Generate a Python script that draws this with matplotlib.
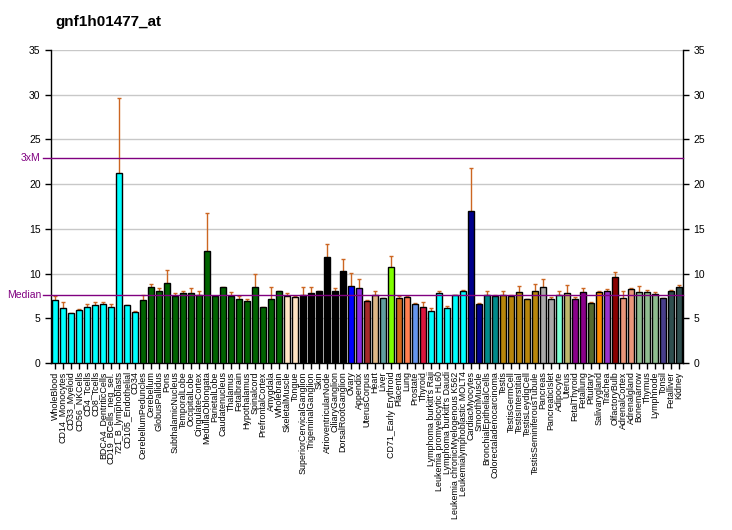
import numpy as np
import matplotlib
matplotlib.use('Agg')
from matplotlib import pyplot as plt
import matplotlib.transforms as mtransforms

plt.rcParams['font.family'] = ['Liberation Sans', 'DejaVu Sans']

# tissue names, values, upper error ends and bar colours
tissues = ['WholeBlood', 'CD14_Monocytes', 'CD33_Myeloid', 'CD56_NKCells', 'CD4_Tcells',
           'CD8_Tcells', 'BDCA4_DentriticCells', 'CD19_BCells_neg_sel.', '721_B_lymphoblasts',
           'CD105_Endothelial', 'CD34', 'CerebellumPeduncles', 'Cerebellum', 'GlobusPallidus',
           'Pons', 'SubthalamicNucleus', 'TemporalLobe', 'OccipitalLobe', 'CingulateCortex',
           'MedullaOblongata', 'ParietalLobe', 'Caudatenucleus', 'Thalamus', 'Fetalbrain',
           'Hypothalamus', 'Spinalcord', 'PrefrontalCortex', 'Amygdala', 'Wholebrain',
           'SkeletalMuscle', 'Tongue', 'SuperiorCervicalGanglion', 'TrigeminalGanglion', 'Skin',
           'AtrioventricularNode', 'CiliaryGanglion', 'DorsalRootGanglion', 'Ovary', 'Appendix',
           'UterusCorpus', 'Heart', 'Liver', 'CD71_Early Erythroid', 'Placenta', 'Lung',
           'Prostate', 'Thyroid', "Lymphoma burkitt's Raji", 'Leukemia promyelocytic HL60',
           "Lymphoma burkitt's Daudi", 'Leukemia chronicMyelogenous K562',
           'Leukemialymphoblastic MOLT4', 'CardiacMyocytes', 'SmoothMuscle',
           'BronchialEpithelialCells', 'Colorectaladenocarcinoma', 'Testis', 'TestisGermCell',
           'TestisInterstitial', 'TestisLeydigCell', 'TestisSeminiferousTubule', 'Pancreas',
           'PancreaticIslet', 'Adipocyte', 'Uterus', 'FetalThyroid', 'Fetallung', 'Pituitary',
           'Salivarygland', 'Trachea', 'OlfactoryBulb', 'AdrenalCortex', 'Adrenalgland',
           'Bonemarrow', 'Thymus', 'Lymphnode', 'Tonsil', 'Fetalliver', 'Kidney']

values = [7.0, 6.1, 5.55, 5.9, 6.3, 6.45, 6.65, 6.3, 21.2, 6.45, 5.7,
          7.1, 8.45, 8.1, 8.9, 7.5, 7.8, 7.8, 7.65, 12.55, 7.45, 8.45, 7.5, 7.2, 6.9,
          8.45, 6.3, 7.2, 8.05, 7.45, 7.35, 7.65, 7.8, 8.05, 11.8, 8.05, 10.25, 8.65,
          8.35, 6.9, 7.6, 7.25, 10.7, 7.25, 7.35, 6.55, 6.25, 5.8, 7.8, 6.1, 7.55, 8.0,
          17.0, 6.55, 7.55, 7.45, 7.55, 7.45, 7.9, 7.15, 8.0, 8.45, 7.15, 7.55, 7.8,
          7.15, 7.9, 6.7, 7.9, 8.0, 9.6, 7.25, 8.25, 7.9, 7.9, 7.7, 7.25, 8.0, 8.45]

err_top = [7.5, 6.8, 5.55, 6.0, 6.55, 6.8, 6.8, 6.55, 29.6, 6.5, 5.8,
           7.55, 8.8, 8.35, 10.45, 7.8, 8.0, 8.35, 8.0, 16.8, 7.45, 8.45, 7.9, 7.45, 7.2,
           9.9, 6.3, 8.45, 8.1, 7.8, 7.5, 8.55, 8.45, 8.1, 13.35, 8.35, 11.65, 10.1,
           9.35, 7.0, 8.1, 7.25, 11.95, 7.5, 7.5, 6.7, 6.8, 6.1, 8.0, 6.35, 7.55, 8.15,
           21.75, 6.7, 8.0, 7.55, 8.0, 7.55, 8.6, 7.15, 8.8, 9.35, 7.35, 8.0, 8.7,
           7.35, 8.35, 6.8, 8.0, 8.25, 10.15, 8.0, 8.35, 8.6, 8.15, 7.9, 7.25, 8.15, 8.7]

colors = (['#00FFFF'] * 11 + ['#006400'] * 18 + ['#FFE4C4'] * 2 + ['#000000'] * 6 +
          ['#0000FF', '#8A2BE2', '#A52A2A', '#DEB887', '#5F9EA0', '#7FFF00', '#D2691E',
           '#FF7F50', '#6495ED', '#DC143C'] + ['#00FFFF'] * 5 + ['#00008B'] * 2 +
          ['#008B8B'] * 2 + ['#B8860B'] * 5 + ['#A9A9A9'] * 2 +
          ['#7FFFD4', '#BDB76B', '#8B008B', '#8B008B', '#556B2F', '#FF8C00', '#9932CC',
           '#8B0000', '#E9967A', '#E9967A'] + ['#8FBC8F'] * 3 +
          ['#483D8B', '#2F4F4F', '#2F4F4F'])

median = 7.63
title = 'gnf1h01477_at'

fig = plt.figure(figsize=(7.32, 5.30), dpi=100)
ax = fig.add_axes([51 / 732, 1 - 363 / 530, 632 / 732, 313 / 530])

x = np.arange(len(tissues))
ax.bar(x, values, width=0.72, color=colors, edgecolor='black', linewidth=1.0, zorder=3)

# upper-only error bars
ax.vlines(x, values, err_top, color='#CC6622', linewidth=1.0, zorder=2)
ax.hlines(err_top, x - 0.25, x + 0.25, color='#CC6622', linewidth=1.0, zorder=2)

ax.set_xlim(-0.5, len(tissues) - 0.5)
ax.set_ylim(0, 35)
yt = np.arange(0, 36, 5)
ax.set_yticks(yt)
for v in yt[1:]:
    ax.axhline(v, color='#C8C8C8', linewidth=1.0, zorder=1)

# median and 3x median lines
blend = mtransforms.blended_transform_factory(ax.transAxes, ax.transData)
for lvl, lab in [(median, 'Median'), (3 * median, '3xM')]:
    ax.plot([-0.012, 1], [lvl, lvl], color='#800080', linewidth=1.0,
            transform=blend, clip_on=False, zorder=4)
    ax.text(-0.016, lvl, lab, color='#800080', fontsize=7.5, ha='right', va='center',
            transform=blend)

ax.set_xticks(x)
ax.set_xticklabels(tissues, rotation=90, fontsize=6.4)
ax.tick_params(axis='x', length=4, width=1, pad=2)
ax.tick_params(axis='y', length=4, width=1, labelsize=7.5, right=True, labelright=True)

ax.spines['top'].set_visible(False)
for s in ['left', 'right', 'bottom']:
    ax.spines[s].set_linewidth(1.0)

fig.text(55 / 732, 1 - 22 / 530, title, fontsize=11, fontweight='bold', va='center')

fig.savefig('out.png', dpi=100)
